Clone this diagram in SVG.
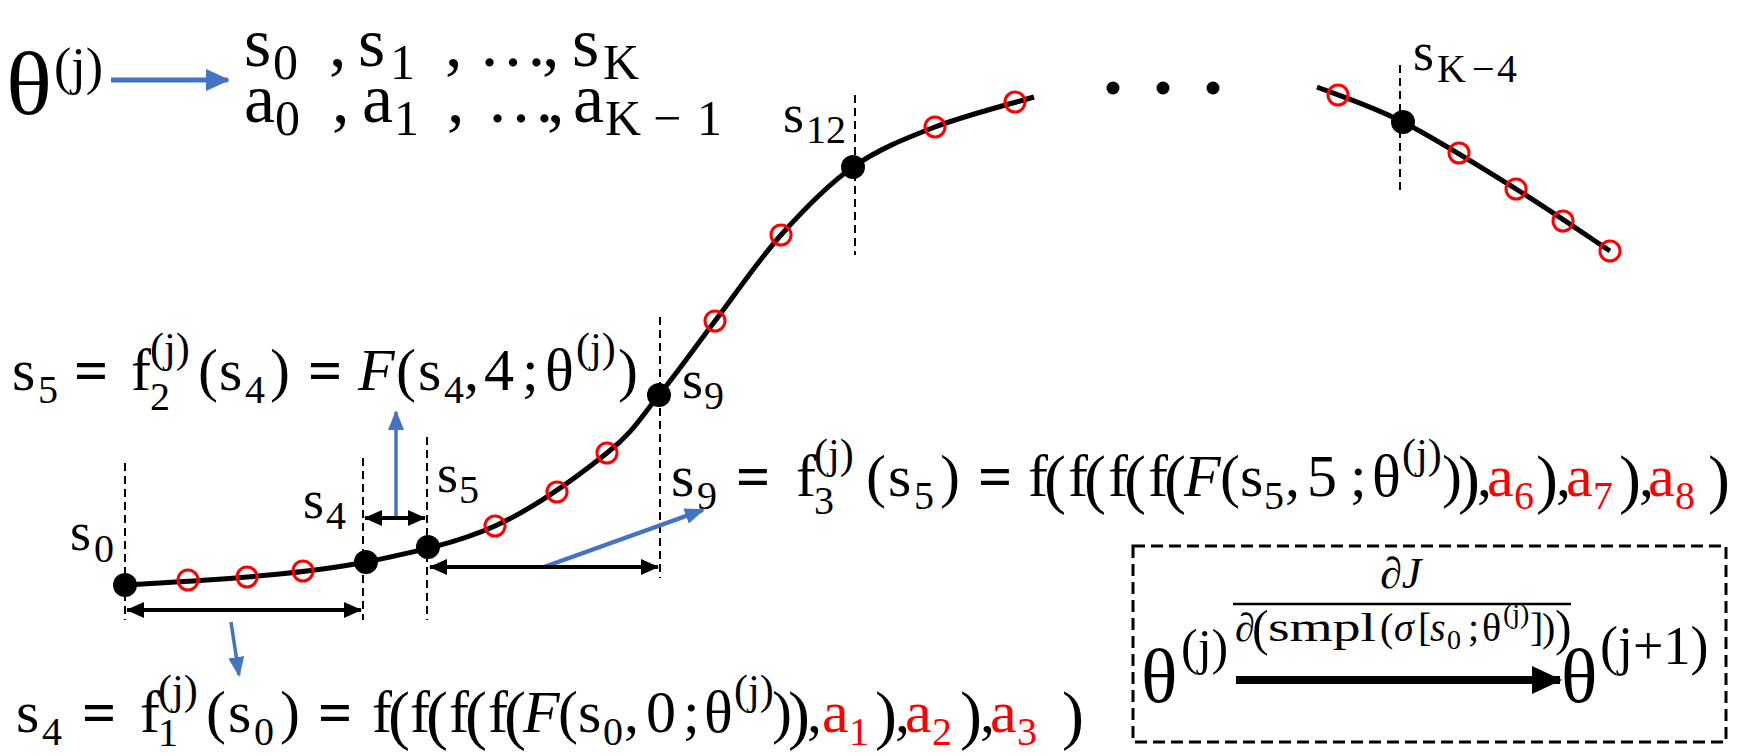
<svg xmlns="http://www.w3.org/2000/svg" width="1740" height="756" viewBox="0 0 1740 756">
<style>
.t{font-family:"Liberation Serif","DejaVu Serif",serif;fill:#000}
.b{font-size:60px}
.s{font-size:40px}
.sj{font-size:42px}
.bp{font-size:66px}
.eq{font-weight:bold}
.it{font-style:italic}
.red{fill:#FF0000}
.lb{font-size:54px}
.ls{font-size:40px}
.dash{stroke:#000;stroke-width:2;stroke-dasharray:8 5;fill:none}
.curve{stroke:#000;stroke-width:5;fill:none}
.oc{fill:none;stroke:#FF0000;stroke-width:3}
.dot{fill:#000}
.blue{stroke:#4472C4;stroke-width:3.5;fill:none}
.dbl{stroke:#000;stroke-width:4;fill:none}
</style>
<defs>
<marker id="bh" markerUnits="userSpaceOnUse" markerWidth="20" markerHeight="16" refX="18" refY="8" orient="auto"><path d="M0,0 L20,8 L0,16 z" fill="#4472C4"/></marker>
<marker id="bhL" markerUnits="userSpaceOnUse" markerWidth="24" markerHeight="22" refX="22" refY="11" orient="auto"><path d="M0,0 L24,11 L0,22 z" fill="#4472C4"/></marker>
<marker id="kh" markerUnits="userSpaceOnUse" markerWidth="18" markerHeight="16" refX="17" refY="8" orient="auto-start-reverse"><path d="M0,0 L18,8 L0,16 z" fill="#000"/></marker>
<marker id="kb" markerUnits="userSpaceOnUse" markerWidth="30" markerHeight="28" refX="28" refY="14" orient="auto"><path d="M0,0 L30,14 L0,28 z" fill="#000"/></marker>
</defs>

<g id="curve">
<path class="curve" d="M125,585 C145.3,583.7 206.8,580.8 247,577 C287.2,573.2 324.7,570.5 366,562 C407.3,553.5 454.8,544.2 495,526 C535.2,507.8 579.7,474.8 607,453 C634.3,431.2 641,417 659,395 C677,373 694.7,347.7 715,321 C735.3,294.3 758,260.7 781,235 C804,209.3 827.3,185 853,167 C878.7,149 904.8,138.7 935,127 C965.2,115.3 1017.5,102 1034,97"/>
<path class="curve" d="M1317,87 C1331.3,92.8 1369.8,105 1403,122 C1436.2,139 1481.5,167.5 1516,189 C1550.5,210.5 1594.3,240.7 1610,251"/>
<circle class="dot" cx="1113" cy="88" r="6.5"/>
<circle class="dot" cx="1163" cy="88" r="6.5"/>
<circle class="dot" cx="1213" cy="88" r="6.5"/>
</g>

<g id="samples">
<circle class="oc" cx="188" cy="580" r="10"/>
<circle class="oc" cx="247" cy="577" r="10"/>
<circle class="oc" cx="303" cy="571" r="10"/>
<circle class="oc" cx="495" cy="526" r="10"/>
<circle class="oc" cx="557" cy="492" r="10"/>
<circle class="oc" cx="607" cy="453" r="10"/>
<circle class="oc" cx="715" cy="321" r="10"/>
<circle class="oc" cx="781" cy="235" r="10"/>
<circle class="oc" cx="935" cy="127" r="10"/>
<circle class="oc" cx="1015" cy="102" r="10"/>
<circle class="oc" cx="1338" cy="95" r="10"/>
<circle class="oc" cx="1459" cy="153" r="10"/>
<circle class="oc" cx="1516" cy="189" r="10"/>
<circle class="oc" cx="1563" cy="221" r="10"/>
<circle class="oc" cx="1610" cy="251" r="10"/>
</g>

<g id="guides">
<line class="dash" x1="125" y1="463" x2="125" y2="620"/>
<line class="dash" x1="363" y1="458" x2="363" y2="620"/>
<line class="dash" x1="427" y1="437" x2="427" y2="620"/>
<line class="dash" x1="660" y1="317" x2="660" y2="578"/>
<line class="dash" x1="855" y1="95" x2="855" y2="255"/>
<line class="dash" x1="1400" y1="65" x2="1400" y2="190"/>
</g>

<g id="states">
<circle class="dot" cx="125" cy="585" r="12"/>
<circle class="dot" cx="366" cy="562" r="12"/>
<circle class="dot" cx="428" cy="547" r="12"/>
<circle class="dot" cx="659" cy="395" r="12"/>
<circle class="dot" cx="853" cy="167" r="12"/>
<circle class="dot" cx="1403" cy="122" r="12"/>
</g>

<g id="labels" class="t">
<text class="lb" x="70" y="550">s<tspan class="ls" x="94" y="562">0</tspan></text>
<text class="lb" x="303" y="518">s<tspan class="ls" x="326" y="529">4</tspan></text>
<text class="lb" x="437" y="492">s<tspan class="ls" x="459" y="503">5</tspan></text>
<text class="lb" x="682" y="398">s<tspan class="ls" x="704" y="409">9</tspan></text>
<text class="lb" x="783" y="132">s<tspan class="ls" x="806" y="143">12</tspan></text>
<text class="lb" x="1413" y="70">s<tspan class="ls" x="1437" y="82">K</tspan><tspan class="ls" x="1472" y="82">−</tspan><tspan class="ls" x="1497" y="82">4</tspan></text>
</g>

<g id="connectors">
<line class="blue" x1="111" y1="80" x2="228" y2="80" style="stroke-width:5" marker-end="url(#bhL)"/>
<line class="blue" x1="231" y1="622" x2="239" y2="675" marker-end="url(#bh)"/>
<line class="blue" x1="396" y1="518" x2="396" y2="412" marker-end="url(#bh)"/>
<line class="blue" x1="544" y1="567" x2="703" y2="510" style="stroke-width:4.5" marker-end="url(#bh)"/>
<line class="dbl" x1="127" y1="610" x2="361" y2="610" marker-start="url(#kh)" marker-end="url(#kh)"/>
<line class="dbl" x1="365" y1="518" x2="425" y2="518" marker-start="url(#kh)" marker-end="url(#kh)"/>
<line class="dbl" x1="430" y1="567" x2="658" y2="567" marker-start="url(#kh)" marker-end="url(#kh)"/>
</g>

<g id="header" class="t">
<text x="6" y="114" style="font-size:88px" textLength="46" lengthAdjust="spacingAndGlyphs">θ</text>
<text x="54" y="84" style="font-size:52px">(j)</text>
<text style="font-size:70px"><tspan x="244" y="66">s</tspan><tspan x="273" y="79" style="font-size:50px">0</tspan><tspan x="329" y="66">,</tspan><tspan x="358" y="66">s</tspan><tspan x="390" y="79" style="font-size:50px">1</tspan><tspan x="445" y="66">,</tspan><tspan x="478" y="66">…</tspan><tspan x="542" y="66">,</tspan><tspan x="572" y="66">s</tspan><tspan x="603" y="79" style="font-size:50px">K</tspan></text>
<text style="font-size:70px"><tspan x="244" y="122">a</tspan><tspan x="275" y="135" style="font-size:50px">0</tspan><tspan x="332" y="122">,</tspan><tspan x="362" y="122">a</tspan><tspan x="394" y="135" style="font-size:50px">1</tspan><tspan x="447" y="122">,</tspan><tspan x="486" y="122">…</tspan><tspan x="547" y="122">,</tspan><tspan x="573" y="122">a</tspan><tspan x="605" y="135" style="font-size:50px">K</tspan><tspan x="653" y="135" style="font-size:50px">−</tspan><tspan x="697" y="135" style="font-size:50px">1</tspan></text>
</g>

<g id="eq-s5" class="t b">
<text><tspan x="12" y="390">s</tspan><tspan class="s" x="38" y="403">5</tspan><tspan class="eq" x="74" y="390">=</tspan><tspan x="131" y="390">f</tspan><tspan class="s" x="150" y="410">2</tspan><tspan class="sj" x="150" y="362">(j)</tspan><tspan x="198" y="390">(</tspan><tspan x="219" y="390">s</tspan><tspan class="s" x="245" y="403">4</tspan><tspan x="270" y="390">)</tspan><tspan class="eq" x="308" y="390">=</tspan><tspan class="it" x="358" y="390">F</tspan><tspan x="396" y="390">(</tspan><tspan x="418" y="390">s</tspan><tspan class="s" x="444" y="403">4</tspan><tspan x="464" y="390">,</tspan><tspan x="484" y="390">4</tspan><tspan x="522" y="390">;</tspan><tspan x="545" y="390">θ</tspan><tspan class="sj" x="576" y="362">(j)</tspan><tspan x="618" y="390">)</tspan></text>
</g>

<g id="eq-s9" class="t b">
<text><tspan x="671" y="496">s</tspan><tspan class="s" x="697" y="509">9</tspan><tspan class="eq" x="736" y="496">=</tspan><tspan x="796" y="496">f</tspan><tspan class="s" x="814" y="514">3</tspan><tspan class="sj" x="814" y="468">(j)</tspan><tspan x="866" y="496">(</tspan><tspan x="888" y="496">s</tspan><tspan class="s" x="914" y="509">5</tspan><tspan x="940" y="496">)</tspan><tspan class="eq" x="978" y="496">=</tspan><tspan x="1028" y="496">f</tspan><tspan class="bp" x="1044" y="501">(</tspan><tspan x="1068" y="496">f</tspan><tspan class="bp" x="1084" y="501">(</tspan><tspan x="1108" y="496">f</tspan><tspan class="bp" x="1124" y="501">(</tspan><tspan x="1148" y="496">f</tspan><tspan class="bp" x="1164" y="501">(</tspan><tspan class="it" x="1184" y="496">F</tspan><tspan x="1220" y="496">(</tspan><tspan x="1240" y="496">s</tspan><tspan class="s" x="1264" y="509">5</tspan><tspan x="1285" y="496">,</tspan><tspan x="1307" y="496">5</tspan><tspan x="1350" y="496">;</tspan><tspan x="1372" y="496">θ</tspan><tspan class="sj" x="1402" y="468">(j)</tspan><tspan x="1442" y="496">)</tspan><tspan class="bp" x="1458" y="501">)</tspan><tspan x="1477" y="496">,</tspan><tspan class="red" x="1487" y="496">a</tspan><tspan class="s red" x="1514" y="509">6</tspan><tspan class="bp" x="1536" y="501">)</tspan><tspan x="1556" y="496">,</tspan><tspan class="red" x="1566" y="496">a</tspan><tspan class="s red" x="1593" y="509">7</tspan><tspan class="bp" x="1619" y="501">)</tspan><tspan x="1639" y="496">,</tspan><tspan class="red" x="1648" y="496">a</tspan><tspan class="s red" x="1675" y="509">8</tspan><tspan class="bp" x="1708" y="501">)</tspan></text>
</g>

<g id="eq-s4" class="t b">
<text><tspan x="16" y="732">s</tspan><tspan class="s" x="42" y="745">4</tspan><tspan class="eq" x="82" y="732">=</tspan><tspan x="140" y="732">f</tspan><tspan class="s" x="158" y="746">1</tspan><tspan class="sj" x="158" y="704">(j)</tspan><tspan x="206" y="732">(</tspan><tspan x="228" y="732">s</tspan><tspan class="s" x="254" y="745">0</tspan><tspan x="280" y="732">)</tspan><tspan class="eq" x="318" y="732">=</tspan><tspan x="372" y="732">f</tspan><tspan class="bp" x="388" y="737">(</tspan><tspan x="410" y="732">f</tspan><tspan class="bp" x="426" y="737">(</tspan><tspan x="449" y="732">f</tspan><tspan class="bp" x="465" y="737">(</tspan><tspan x="488" y="732">f</tspan><tspan class="bp" x="504" y="737">(</tspan><tspan class="it" x="523" y="732">F</tspan><tspan x="558" y="732">(</tspan><tspan x="578" y="732">s</tspan><tspan class="s" x="603" y="745">0</tspan><tspan x="624" y="732">,</tspan><tspan x="646" y="732">0</tspan><tspan x="683" y="732">;</tspan><tspan x="704" y="732">θ</tspan><tspan class="sj" x="734" y="704">(j)</tspan><tspan x="772" y="732">)</tspan><tspan class="bp" x="788" y="737">)</tspan><tspan x="807" y="732">,</tspan><tspan class="red" x="822" y="732">a</tspan><tspan class="s red" x="849" y="745">1</tspan><tspan class="bp" x="875" y="737">)</tspan><tspan x="895" y="732">,</tspan><tspan class="red" x="905" y="732">a</tspan><tspan class="s red" x="932" y="745">2</tspan><tspan class="bp" x="960" y="737">)</tspan><tspan x="980" y="732">,</tspan><tspan class="red" x="990" y="732">a</tspan><tspan class="s red" x="1017" y="745">3</tspan><tspan class="bp" x="1062" y="737">)</tspan></text>
</g>

<g id="update-box">
<rect x="1133" y="546" width="593" height="196" fill="none" stroke="#000" stroke-width="3" stroke-dasharray="12 6"/>
<line x1="1236" y1="680" x2="1560" y2="680" stroke="#000" stroke-width="8" marker-end="url(#kb)"/>
<line x1="1233" y1="604" x2="1571" y2="604" stroke="#000" stroke-width="2.5"/>
<text class="t" x="1141" y="702" style="font-size:76px">θ</text>
<text class="t" x="1181" y="664" style="font-size:50px">(j)</text>
<text class="t" x="1561" y="702" style="font-size:76px">θ</text>
<text class="t" x="1600" y="664" style="font-size:54px">(j+1)</text>
<text class="t it" x="1380" y="588" style="font-size:44px">∂J</text>
<text class="t" style="font-size:40px"><tspan class="it" x="1235" y="641">∂</tspan><tspan x="1252" y="645" style="font-size:50px">(</tspan><tspan x="1268" y="641" textLength="108" lengthAdjust="spacingAndGlyphs">smpl</tspan><tspan x="1380" y="641">(</tspan><tspan class="it" x="1394" y="641">σ</tspan><tspan x="1418" y="641">[</tspan><tspan class="it" x="1430" y="641">s</tspan><tspan x="1447" y="649" style="font-size:28px">0</tspan><tspan x="1468" y="641">;</tspan><tspan x="1482" y="641">θ</tspan><tspan x="1503" y="623" style="font-size:28px">(j)</tspan><tspan x="1530" y="641">]</tspan><tspan x="1542" y="641">)</tspan><tspan x="1555" y="645" style="font-size:50px">)</tspan></text>
</g>
</svg>
